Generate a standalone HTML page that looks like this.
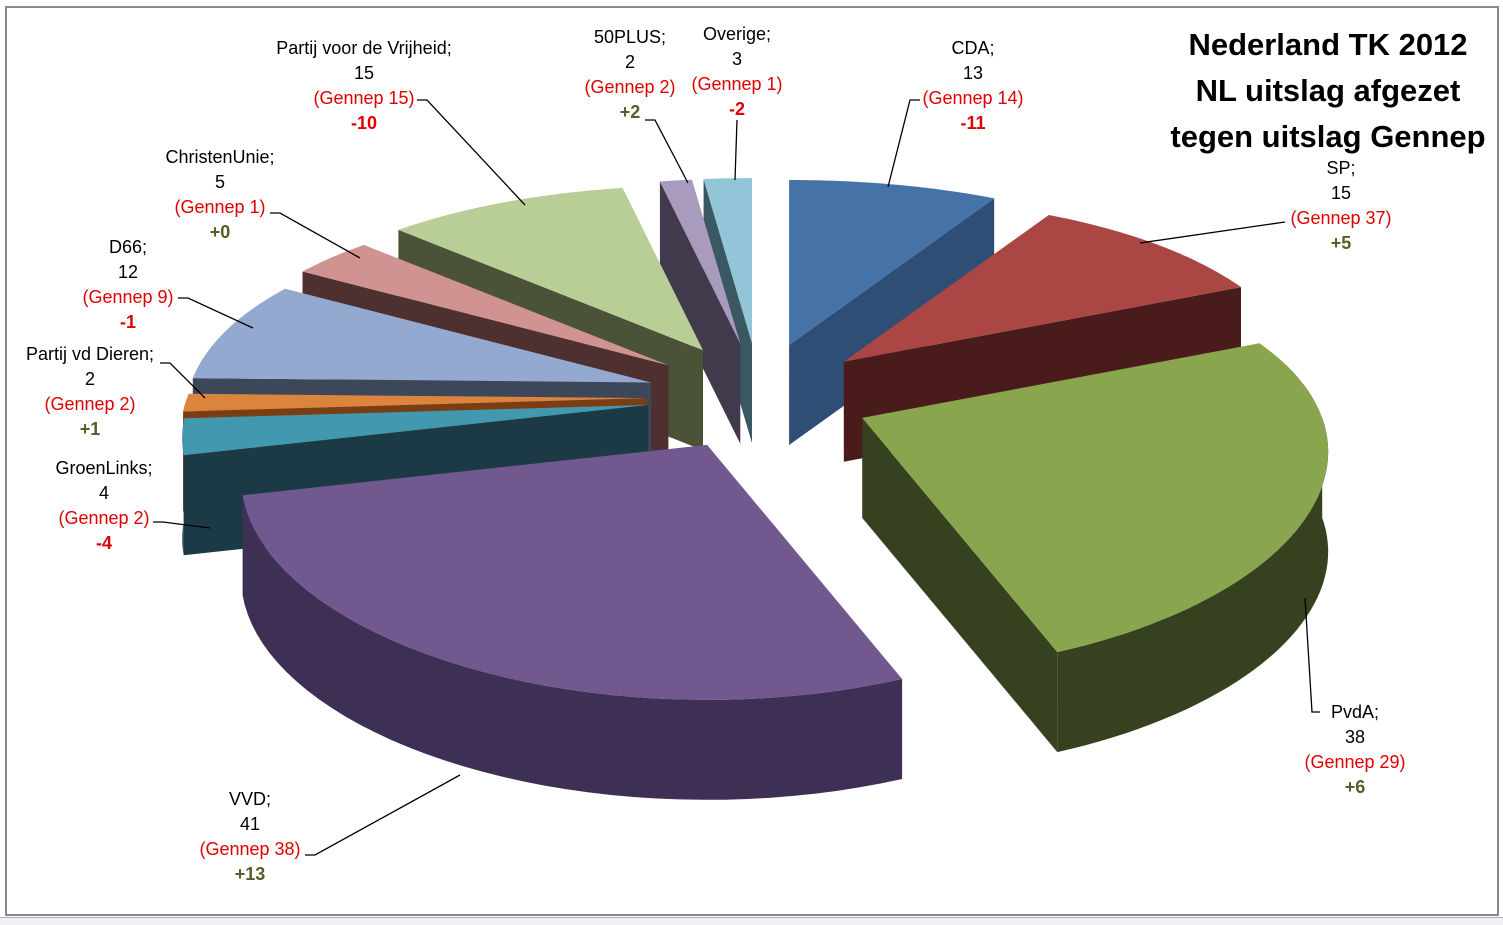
<!DOCTYPE html>
<html><head><meta charset="utf-8"><style>
body{margin:0;background:#fff;width:1503px;height:924px;overflow:hidden;font-family:"Liberation Sans",sans-serif;}
#frame{position:absolute;left:5px;top:6px;width:1490px;height:906px;border:2px solid #8a8a8a;}
.lbl{position:absolute;text-align:center;font-size:18px;line-height:25px;white-space:nowrap;transform:translateX(-50%);}
.r{color:#e00000}.g{color:#4f6228;font-weight:bold}.rb{color:#e00000;font-weight:bold}
#title{position:absolute;left:1328px;top:22px;transform:translateX(-50%);text-align:center;font-weight:bold;font-size:31px;line-height:46px;white-space:nowrap;}
#strip{position:absolute;left:0;top:917px;width:1503px;height:7px;background:#f0f0f0;border-top:1px solid #9fb3d4;}
</style></head><body>
<div id="frame"></div>
<svg id="chart" width="1503" height="924" style="position:absolute;left:0;top:0"></svg>
<div id="title">Nederland TK 2012<br>NL uitslag afgezet<br>tegen uitslag Gennep</div>
<div id="labels"></div>
<div id="strip"></div>
<script>
const parties=["CDA","SP","PvdA","VVD","GroenLinks","Partij vd Dieren","D66","ChristenUnie","Partij voor de Vrijheid","50PLUS","Overige"];
const seats=[13,15,38,41,4,2,12,5,15,2,3];
const gennep=[14,37,29,38,2,2,9,1,15,2,1];
const diffs=["-11","+5","+6","+13","-4","+1","-1","+0","-10","+2","-2"];
const topColors=["#4572a7","#aa4643","#89a54e","#71588f","#4198af","#db843d","#93a9cf","#d19392","#b9cd96","#a99bbd","#92c5d7"];
const sideColors=["#2f4e76","#4a1b1b","#36411f","#3e3055","#1b3a46","#7a3e12","#3c4759","#4f3030","#4a5238","#403a4c","#3a5862"];
const labelX=[973,1341,1355,250,104,90,128,220,364,630,737];
const labelY=[36,156,700,787,456,342,235,145,36,25,22];
const leaders=[[[920,100],[910,100],[888,187]],[[1285,222],[1140,243]],[[1320,712],[1312,712],[1305,598]],[[305,855],[315,855],[460,775]],[[153,522],[163,522],[210,528]],[[160,363],[170,363],[205,398]],[[178,298],[188,298],[253,328]],[[270,213],[280,213],[360,258]],[[417,100],[427,100],[525,205]],[[645,120],[655,120],[688,183]],[[737,120],[735,180]]];
const cx=759,cy=397,D=100,Ex=112,Ey=54;
function RX(t){return 460-75*Math.cos(t);}
function RY(t){return 210-45*Math.cos(t);}
const svg=document.getElementById('chart');const NS="http://www.w3.org/2000/svg";
const total=seats.reduce((a,b)=>a+b,0);
function P(t,ox,oy){return [cx+ox+RX(t)*Math.sin(t),cy+oy-RY(t)*Math.cos(t)];}
function poly(pts,fill,name){const p=document.createElementNS(NS,'polygon');p.setAttribute('points',pts.map(q=>q[0].toFixed(1)+','+q[1].toFixed(1)).join(' '));p.setAttribute('fill',fill);


svg.appendChild(p);}
let acc=0;const slices=[];
seats.forEach((s,i)=>{const t1=acc/total*2*Math.PI;acc+=s;const t2=acc/total*2*Math.PI;const m=(t1+t2)/2;slices.push({i,t1,t2,m,ox:Ex*Math.sin(m),oy:-Ey*Math.cos(m)});});
slices.slice().sort((a,b)=>Math.cos(b.m)-Math.cos(a.m)).forEach(s=>{
 const {i,t1,t2,ox,oy}=s;const C=[cx+ox,cy+oy];const dn=q=>[q[0],q[1]+D];
 const slug=parties[i].toLowerCase().replace(/[^a-z0-9]+/g,'-');
 if(Math.sin(t1)<=0.05){const a=P(t1,ox,oy);poly([C,a,dn(a),dn(C)],sideColors[i],'slice-side-'+slug);}
 if(Math.sin(t2)>=-0.05){const a=P(t2,ox,oy);poly([C,a,dn(a),dn(C)],sideColors[i],'slice-side-'+slug);}
 const lo=Math.max(t1,Math.PI/2),hi=Math.min(t2,1.5*Math.PI);
 if(hi>lo){const top=[],bot=[];for(let k=0;k<=40;k++){const t=lo+(hi-lo)*k/40;const q=P(t,ox,oy);top.push(q);bot.push(dn(q));}
  poly(top.concat(bot.reverse()),sideColors[i],'slice-wall-'+slug);}
 const pts=[C];for(let k=0;k<=60;k++){pts.push(P(t1+(t2-t1)*k/60,ox,oy));}
 poly(pts,topColors[i],'slice-'+slug);
});
leaders.forEach((L,i)=>{const pl=document.createElementNS(NS,'polyline');pl.setAttribute('points',L.map(q=>q.join(',')).join(' '));pl.setAttribute('fill','none');pl.setAttribute('stroke','#000');pl.setAttribute('stroke-width','1.3');


svg.appendChild(pl);});
const lw=document.getElementById('labels');
parties.forEach((p,i)=>{const d=document.createElement('div');d.className='lbl';d.style.left=labelX[i]+'px';d.style.top=labelY[i]+'px';


const dc=diffs[i].startsWith('-')?'rb':'g';
d.innerHTML=p+';<br>'+seats[i]+'<br><span class="r">(Gennep '+gennep[i]+')</span><br><span class="'+dc+'">'+diffs[i]+'</span>';lw.appendChild(d);});
</script>
</body></html>
